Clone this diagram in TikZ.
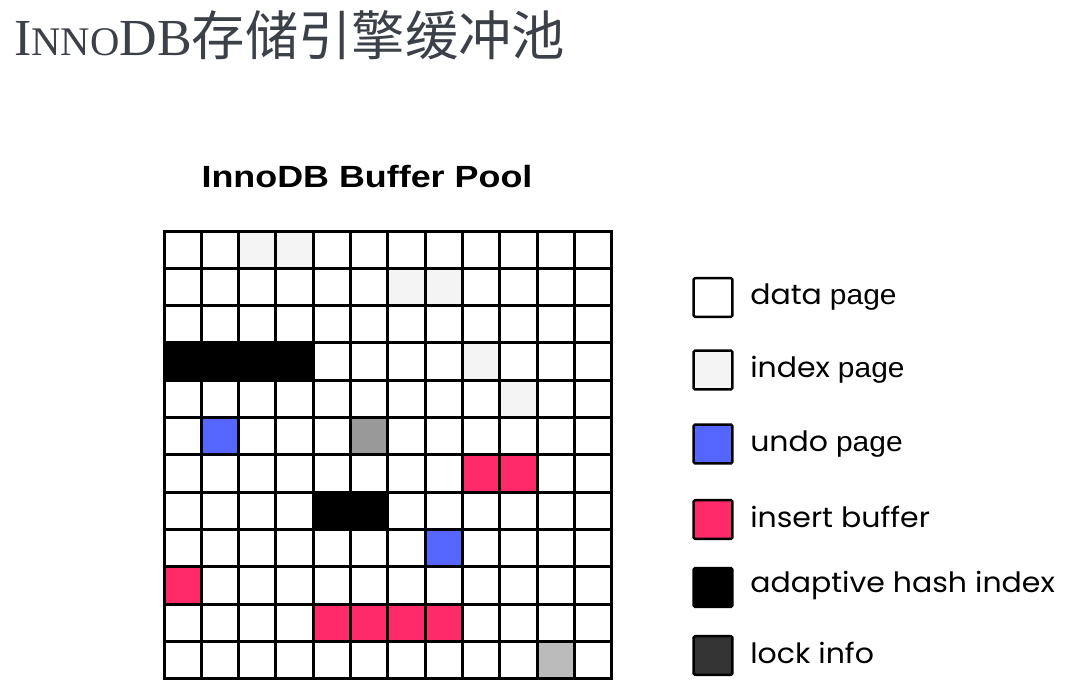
\documentclass[tikz,border=0pt]{standalone}
\usepackage{fontspec}
\setmainfont{Liberation Serif}
\newfontfamily\cjk{Noto Sans CJK SC}
\newfontfamily\legendfont[FakeStretch=1.07]{Poppins}
\newfontfamily\pagefont[FakeStretch=1.07]{Liberation Sans}
\newfontfamily\headfont[FakeStretch=1.17]{Liberation Sans}
\definecolor{titlegray}{HTML}{3C4048}
\definecolor{idxgray}{HTML}{F4F4F4}
\definecolor{undoblue}{HTML}{5566FF}
\definecolor{inspink}{HTML}{FF2A6A}
\definecolor{midgray}{HTML}{999999}
\definecolor{lightgray}{HTML}{BBBBBB}
\definecolor{lockgray}{HTML}{333333}
\tikzset{
  gridline/.style={line width=2.25pt, line cap=rect},
  keybox/.style={draw=black, line width=1.9pt, rounded corners=1pt, minimum size=29pt, inner sep=0pt},
  keytext/.style={anchor=west, inner sep=0pt, font=\legendfont\fontsize{21}{21}\selectfont},
}
\newcommand{\pg}{{\pagefont page}}
\begin{document}
\begin{tikzpicture}[x=0.75pt,y=-0.75pt]
\useasboundingbox (0,0) rectangle (1079,700);
% title
\node[anchor=base west, inner sep=0pt, text=titlegray] (title) at (14,55)
  {\fontsize{39}{39}\selectfont I\fontsize{30.5}{30.5}\selectfont NNO\fontsize{39}{39}\selectfont DB\cjk\fontsize{40}{40}\selectfont 存储引擎缓冲池};
% pool heading
\node[anchor=base, inner sep=0pt, font=\headfont\bfseries\fontsize{23}{23}\selectfont] (head) at (367,187) {InnoDB Buffer Pool};
% grid
\def\gx{164}\def\gy{231}\def\cs{37.33}
\foreach \r/\c/\col in {0/2/idxgray,0/3/idxgray,1/6/idxgray,1/7/idxgray,3/8/idxgray,4/9/idxgray,
  5/1/undoblue,5/5/midgray,6/8/inspink,6/9/inspink,
  8/7/undoblue,9/0/inspink,10/4/inspink,10/5/inspink,10/6/inspink,10/7/inspink,11/10/lightgray}
  {\fill[\col] (\gx+\c*\cs,\gy+\r*\cs) rectangle ++(\cs,\cs);}
\foreach \i in {0,...,12}{
  \draw[gridline] (\gx+\i*\cs,\gy) -- (\gx+\i*\cs,\gy+12*\cs);
  \draw[gridline] (\gx,\gy+\i*\cs) -- (\gx+12*\cs,\gy+\i*\cs);
}
\fill[black] (\gx,\gy+3*\cs) rectangle ++(4*\cs,\cs);
\fill[black] (\gx+4*\cs,\gy+7*\cs) rectangle ++(2*\cs,\cs);
% legend
\node[keybox, fill=white] (k1) at (713,297.5) {};
\node[keybox, fill=idxgray] (k2) at (713,370) {};
\node[keybox, fill=undoblue] (k3) at (713,444) {};
\node[keybox, fill=inspink] (k4) at (713,519.5) {};
\node[keybox, fill=black] (k5) at (713,587.5) {};
\node[keybox, fill=lockgray] (k6) at (713,655.5) {};
\node[keytext] (t1) at (750,297.5) {data \pg};
\node[keytext] (t2) at (750,370) {index \pg};
\node[keytext] (t3) at (750,444) {undo \pg};
\node[keytext] (t4) at (750,517) {insert buffer};
\node[keytext] (t5) at (750,585) {adaptive hash index};
\node[keytext] (t6) at (750,653) {lock info};
\end{tikzpicture}
\end{document}
